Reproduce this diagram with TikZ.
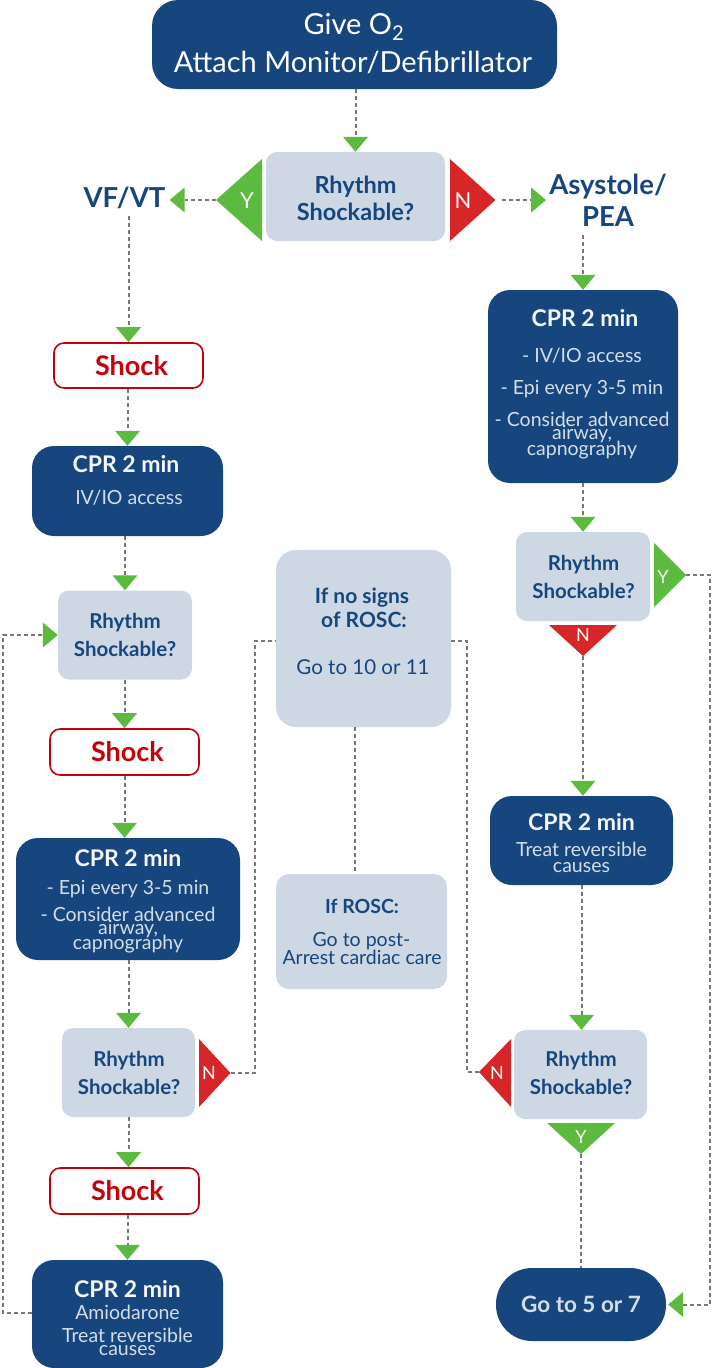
\documentclass[tikz,border=0pt]{standalone}
\usepackage{fontspec}
\setmainfont{Lato}
\usetikzlibrary{arrows.meta}
\definecolor{dblue}{HTML}{16467D}
\definecolor{lbox}{HTML}{CDD8E4}
\definecolor{tgreen}{HTML}{5CBA3E}
\definecolor{tred}{HTML}{D72627}
\definecolor{sred}{HTML}{C4000A}
\definecolor{lgray}{HTML}{777777}
\definecolor{ltext}{HTML}{D3DDE8}
\definecolor{wtext}{HTML}{F4F6F9}
\newcommand\fsz[1]{\fontsize{#1}{#1}\selectfont}
\begin{document}
\begin{tikzpicture}[x=1pt,y=-1pt,
  dbox/.style={fill=dblue, rounded corners=22pt, inner sep=0pt},
  lbx/.style={fill=lbox, rounded corners=11pt, inner sep=0pt},
  sbox/.style={draw=sred, line width=1.6pt, fill=white, text=sred, rounded corners=10pt, inner sep=0pt, font=\fsz{27}\bfseries},
  conn/.style={draw=lgray, line width=2pt, dash pattern=on 4pt off 3pt},
  arr/.style={conn, -{Triangle[length=15pt, width=25pt, color=tgreen, fill=tgreen, line width=0pt]}},
  ttl/.style={text=wtext, font=\fsz{23}\bfseries, anchor=base, inner sep=0pt},
  sub/.style={text=ltext, font=\fsz{19.5}, anchor=base, inner sep=0pt},
  qtx/.style={text=dblue, font=\fsz{20.5}\bfseries, anchor=base, inner sep=0pt},
  mtx/.style={text=dblue, font=\fsz{20.5}, anchor=base, inner sep=0pt},
  yn/.style={text=white, font=\fsz{18}, inner sep=0pt},
]
\fill[white] (0,0) rectangle (712,1368);
\useasboundingbox (0,0) rectangle (712,1368);

% ---------- boxes ----------
\node[dbox, rounded corners=26pt, minimum width=405pt, minimum height=89pt] (top) at (354.5,44.5) {};
\node[lbx, minimum width=179pt, minimum height=89pt] (r0) at (355.5,196.5) {};

\node[sbox, minimum width=149pt, minimum height=45pt] (s1) at (128.5,365.5) {\hspace{6pt}Shock};
\node[dbox, minimum width=191pt, minimum height=90pt] (c1) at (127.5,491) {};
\node[lbx, minimum width=134pt, minimum height=89pt] (r2) at (125,635) {};
\node[sbox, minimum width=149pt, minimum height=46pt] (s2) at (124.5,752) {\hspace{6pt}Shock};
\node[dbox, minimum width=224pt, minimum height=122pt] (c2) at (128,899) {};
\node[lbx, minimum width=133pt, minimum height=89pt] (r3) at (128.5,1072.5) {};
\node[sbox, minimum width=149pt, minimum height=46pt] (s3) at (124.5,1191) {\hspace{6pt}Shock};
\node[dbox, minimum width=191pt, minimum height=108pt] (c3) at (127.5,1314) {};

\node[lbx, rounded corners=20pt, minimum width=175pt, minimum height=177pt] (nosigns) at (363.5,638.5) {};
\node[lbx, rounded corners=13pt, minimum width=171pt, minimum height=115pt] (rosc) at (361.5,931.5) {};

\node[dbox, minimum width=190pt, minimum height=193pt] (c1r) at (583,386.5) {};
\node[lbx, minimum width=134pt, minimum height=89pt] (rr) at (583,576.5) {};
\node[dbox, minimum width=183pt, minimum height=89pt] (c2r) at (581.5,840.5) {};
\node[lbx, minimum width=133pt, minimum height=89pt] (rr3) at (580.5,1074.5) {};
\node[dbox, rounded corners=36pt, minimum width=170pt, minimum height=73pt, text=ltext, font=\fsz{22.5}\bfseries] (goto) at (581,1304.5) {Go to 5 or 7};

% ---------- plain labels ----------
\node[text=dblue, font=\fsz{27.5}\bfseries, anchor=base, inner xsep=4pt, inner ysep=7pt] (vf) at (124.5,207) {VF/VT};
\node[text=dblue, font=\fontsize{27.5}{32}\selectfont\bfseries, align=center, inner xsep=3pt, inner ysep=9pt] (as) at (608,200) {Asystole/\\PEA};

% ---------- triangles ----------
\fill[tgreen] (262,159) -- (262,241) -- (216,200) -- cycle;
\coordinate (ytop) at (216,200);
\node[yn, font=\fsz{22}] (ly1) at (247,201) {Y};
\fill[tred] (450,159) -- (450,241) -- (495.5,200) -- cycle;
\coordinate (ntop) at (495.5,200);
\node[yn, font=\fsz{22}] (ln1) at (463,201) {N};

\fill[tgreen] (654,543) -- (654,607) -- (686,575) -- cycle;
\coordinate (yrt) at (686,575);
\node[yn] (ly2) at (663,577) {Y};
\fill[tred] (549,625) -- (617,625) -- (583,656) -- cycle;
\coordinate (nrt) at (583,656);
\node[yn] (ln2) at (583,635) {N};

\fill[tred] (199,1039) -- (199,1107) -- (230.5,1073) -- cycle;
\coordinate (nlt) at (230.5,1073);
\node[yn] (ln3) at (209,1073) {N};

\fill[tred] (511,1039) -- (511,1107) -- (479,1072) -- cycle;
\coordinate (nlt3) at (479,1072);
\node[yn] (ln4) at (497,1073) {N};
\fill[tgreen] (547,1123) -- (615,1123) -- (581,1154) -- cycle;
\coordinate (ydt3) at (581,1154);
\node[yn] (ly3) at (581,1137) {Y};

% ---------- texts in boxes ----------
\node[text=white, font=\fsz{29}, anchor=base, inner sep=0pt] (tg1) at (354,34) {Give O\textsubscript{2}};
\node[text=white, font=\fsz{29}, anchor=base, inner sep=0pt] (tg2) at (353,72) {Attach Monitor/Defibrillator};

\node[qtx, font=\fsz{23.5}\bfseries] (q01) at (355.5,193) {Rhythm};
\node[qtx, font=\fsz{23.5}\bfseries] (q02) at (355.5,220) {Shockable?};

\node[ttl] (t11) at (126,472) {CPR 2 min};
\node[sub] (t12) at (129,504) {IV/IO access};

\node[qtx] (q21) at (125,628) {Rhythm};
\node[qtx] (q22) at (125,656) {Shockable?};

\node[ttl] (t21) at (128,866) {CPR 2 min};
\node[sub] (t22) at (128,894) {- Epi every 3-5 min};
\node[sub] (t23) at (128,921.5) {- Consider advanced};
\node[sub] (t24) at (128,934) {airway,};
\node[sub] (t25) at (128,949) {capnography};

\node[qtx] (q31) at (129,1066) {Rhythm};
\node[qtx] (q32) at (129,1094) {Shockable?};

\node[ttl] (t31) at (127.5,1297) {CPR 2 min};
\node[sub] (t32) at (127.5,1319) {Amiodarone};
\node[sub] (t33) at (127.5,1342) {Treat reversible};
\node[sub] (t34) at (127.5,1355) {causes};

\node[qtx, font=\fsz{21}\bfseries] (m1) at (362,603) {If no signs};
\node[qtx, font=\fsz{21}\bfseries] (m2) at (364,627) {of ROSC:};
\node[mtx] (m3) at (363,674) {Go to 10 or 11};

\node[qtx, font=\fsz{19.5}\bfseries] (m4) at (362,913) {If ROSC:};
\node[mtx, font=\fsz{19.5}] (m5) at (361.5,946) {Go to post-};
\node[mtx, font=\fsz{19.5}] (m6) at (362,964) {Arrest cardiac care};

\node[ttl] (u11) at (585,326) {CPR 2 min};
\node[sub] (u12) at (582,362) {- IV/IO access};
\node[sub] (u13) at (582,394) {- Epi every 3-5 min};
\node[sub] (u14) at (582,426) {- Consider advanced};
\node[sub] (u15) at (582,439.5) {airway,};
\node[sub] (u16) at (582,455) {capnography};

\node[qtx] (p11) at (583.5,570) {Rhythm};
\node[qtx] (p12) at (583.5,598) {Shockable?};

\node[ttl] (u21) at (581.5,830) {CPR 2 min};
\node[sub] (u22) at (581.5,856) {Treat reversible};
\node[sub] (u23) at (581.5,872) {causes};

\node[qtx] (p21) at (581,1066) {Rhythm};
\node[qtx] (p22) at (581,1094) {Shockable?};

% ---------- connectors ----------
\draw[arr] (r0.north |- top.south) -- (r0.north);
\draw[arr] (ytop) -- (ytop -| vf.east);
\draw[arr] ([xshift=6pt]ntop) -- (ntop -| as.west);

\draw[arr] (vf.south -| s1.north) -- (s1.north);
\draw[arr] (c1.north |- s1.south) -- (c1.north);
\draw[arr] (r2.north |- c1.south) -- (r2.north);
\draw[arr] (s2.north |- r2.south) -- (s2.north);
\draw[arr] (s2.south) -- (s2.south |- c2.north);
\draw[arr] (r3.north |- c2.south) -- (r3.north);
\draw[arr] (r3.south) -- (r3.south |- s3.north);
\draw[arr] (c3.north |- s3.south) -- (c3.north);
\draw[arr] ([yshift=1pt]c3.west) -- ++(-29pt,0) |- (r2.west);

\draw[conn] (nlt) -- ++(24pt,0) |- ([yshift=-2.5pt]nosigns.west);
\draw[conn] ([yshift=-2.5pt]nosigns.east) -- ++(16pt,0) |- (nlt3);
\draw[conn] ([xshift=-8.5pt]nosigns.south) -- ([xshift=-8.5pt]nosigns.south |- rosc.north);

\draw[arr] (as.south -| c1r.north) -- (c1r.north);
\draw[arr] (c1r.south) -- (c1r.south |- rr.north);
\draw[arr] (nrt) -- (nrt |- c2r.north);
\draw[arr] (c2r.south) -- (c2r.south |- rr3.north);
\draw[conn] (ydt3) -- (ydt3 |- goto.north);
\coordinate (rx) at (710,575);
\draw[arr] (yrt) -- (rx) |- ([xshift=2pt]goto.east);
\end{tikzpicture}
\end{document}
